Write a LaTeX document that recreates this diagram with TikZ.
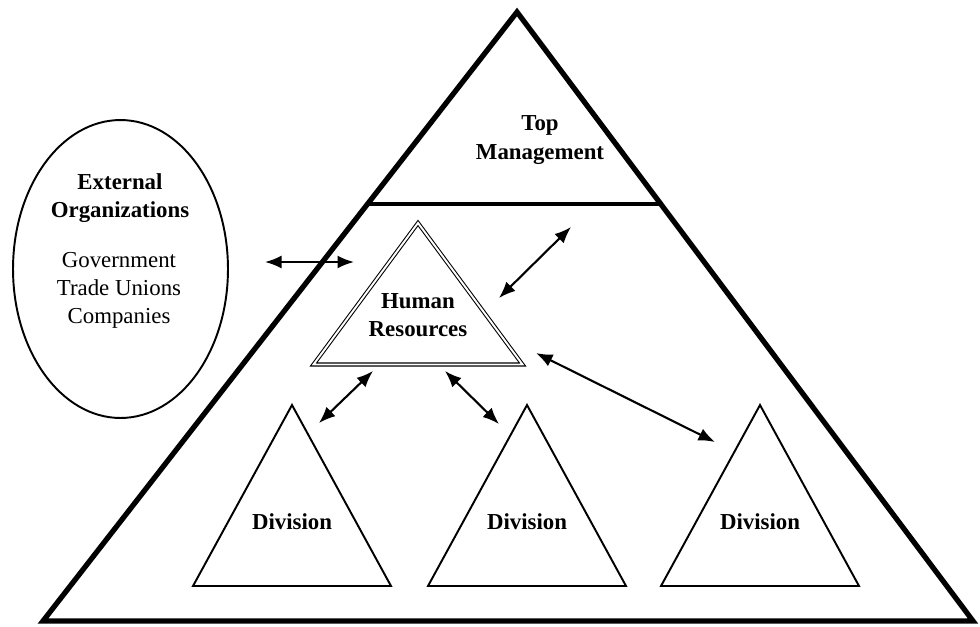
\documentclass[tikz,border=0pt]{standalone}
\usepackage{fontspec}
\setmainfont{Liberation Serif}
\usetikzlibrary{shapes.geometric,arrows.meta}
\tikzstyle{outer} = [line width=3pt, line join=miter]
\tikzstyle{division} = [line width=1.1pt, line join=miter]
\tikzstyle{hr} = [double, double distance=1.1pt, line width=0.6pt, line join=miter]
\tikzstyle{boldtext} = [align=center, font=\fontsize{13}{16}\selectfont\bfseries, inner sep=0pt]
\tikzstyle{plaintext} = [align=center, font=\fontsize{13}{16}\selectfont, inner sep=0pt]
\tikzstyle{arrow} = [line width=1.2pt, {Latex[length=3.3mm,width=2.6mm]}-{Latex[length=3.3mm,width=2.6mm]}]

\begin{document}
\begin{tikzpicture}[x=0.02cm, y=-0.02cm]
    \useasboundingbox (0,0) rectangle (980,626);
    % whole organization
    \coordinate (apex) at (517,12);
    \coordinate (bl) at (43,621);
    \coordinate (br) at (973,621);
    \draw [outer] (apex) -- (bl) -- (br) -- cycle;
    \draw [line width=2.1pt] (368,204) -- (661,204);
    \node (top) [boldtext] at (540,140) {Top\\Management};
    % external organizations
    \node (ext) [ellipse, draw, line width=1.1pt, minimum width=4.3cm, minimum height=5.96cm] at (120.5,269) {};
    \node (extname) [boldtext] at (120,198) {External\\Organizations};
    \node (extlist) [plaintext] at (119,290) {Government\\Trade Unions\\Companies};
    % human resources
    \draw [hr] (418,223) -- (313.5,364.5) -- (522.5,364.5) -- cycle;
    \node (hr) [boldtext] at (418,315) {Human\\Resources};
    % divisions
    \draw [division] (292,405) -- (193,586) -- (391,586) -- cycle;
    \draw [division] (527,405) -- (428,586) -- (626,586) -- cycle;
    \draw [division] (760,405) -- (661,586) -- (859,586) -- cycle;
    \node (div1) [boldtext] at (292,522) {Division};
    \node (div2) [boldtext] at (527,522) {Division};
    \node (div3) [boldtext] at (760,522) {Division};
    % links
    \coordinate (extR) at (265,262);
    \coordinate (hrL) at (354,262);
    \coordinate (hrT) at (499,298);
    \coordinate (topB) at (571,227);
    \coordinate (hrR) at (536,353);
    \coordinate (div3T) at (715,442);
    \coordinate (hrBL) at (373,371);
    \coordinate (div1T) at (319,423);
    \coordinate (hrBR) at (445,371);
    \coordinate (div2T) at (499,424);
    \draw [arrow] (extR) -- (hrL);
    \draw [arrow] (hrT) -- (topB);
    \draw [arrow] (hrR) -- (div3T);
    \draw [arrow] (hrBL) -- (div1T);
    \draw [arrow] (hrBR) -- (div2T);
\end{tikzpicture}
\end{document}
